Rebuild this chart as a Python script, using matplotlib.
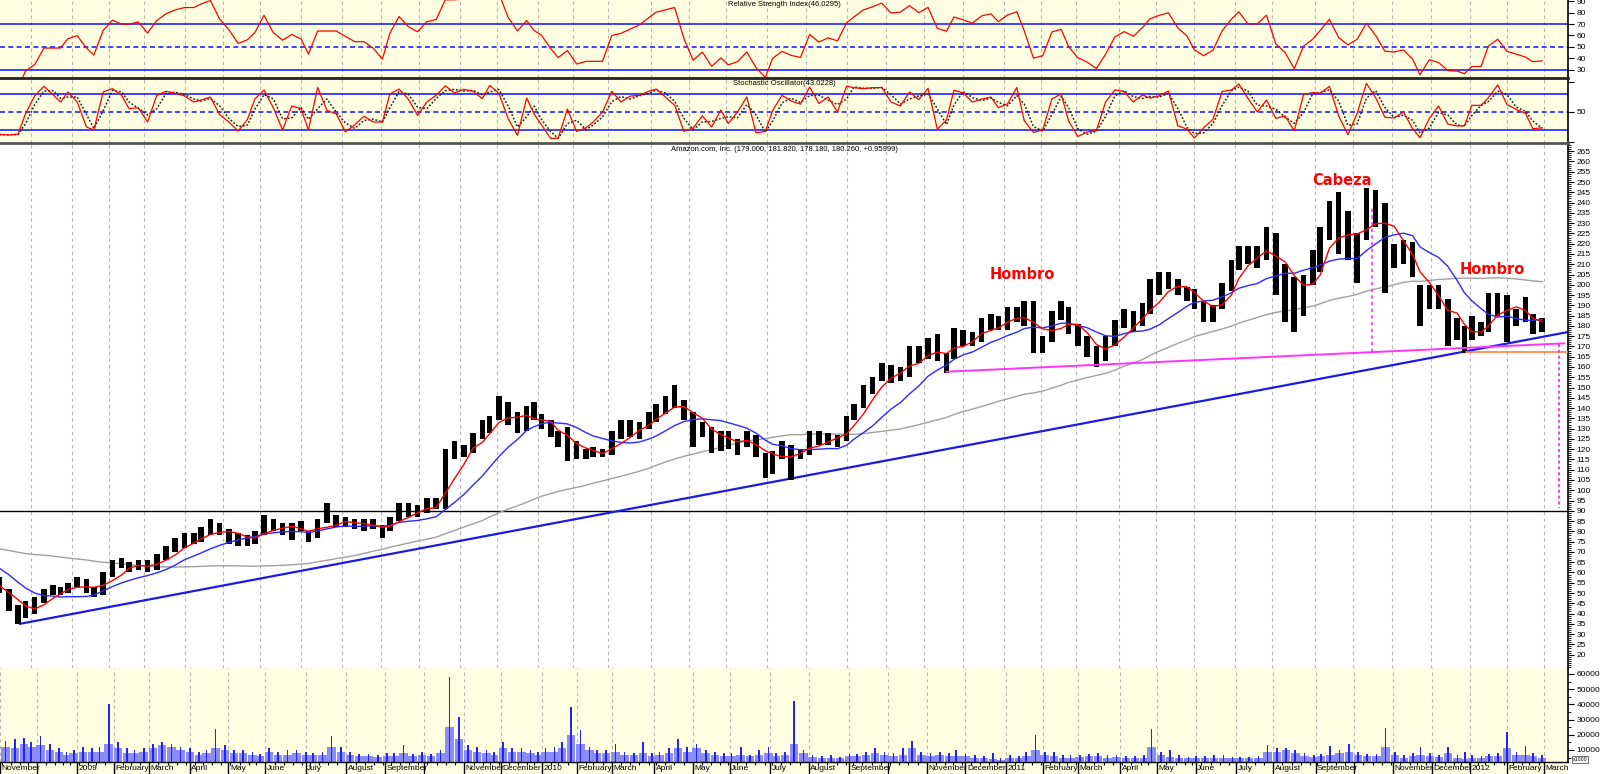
import numpy as np
import pandas as pd
import matplotlib
matplotlib.use("Agg")
import matplotlib.pyplot as plt
import matplotlib.transforms as mtrans
from matplotlib.patches import Rectangle
from matplotlib.ticker import FixedLocator

plt.rcParams["font.family"] = ["Liberation Sans", "DejaVu Sans"]

# ---------------- data (weekly, week ending Friday) ----------------
weeks = pd.date_range("2008-11-07", "2012-03-02", freq="W-FRI")

high = [58, 52, 44, 46, 48, 52, 54, 53,
        55, 58, 57, 53, 60, 66, 67, 65, 66, 66, 69, 73, 77, 79, 79, 82, 86,
        84, 81, 79, 78, 80, 88, 86, 84, 84, 85, 80, 86, 94, 88, 87, 86, 86, 86,
        83, 87, 94, 94, 93, 96, 96, 120, 124, 122, 128, 134, 136, 146, 143, 138, 141,
        143, 137, 134, 129, 131, 124, 120, 121, 120, 129, 134, 134, 133, 138, 142, 146, 151, 144,
        138, 133, 131, 129, 129, 125, 129, 127, 118, 119, 124, 122, 120, 129, 129, 128, 127,
        136, 142, 151, 155, 162, 161, 160, 170, 170, 174, 176, 167, 179, 178, 177, 184, 186, 185,
        189, 189, 192, 192, 175, 187, 192, 189, 181, 175, 170, 175, 183, 188, 187, 191, 203,
        206, 206, 203, 199, 198, 192, 190, 201, 212, 219, 219, 219, 228, 225, 210, 204, 205,
        217, 228, 241, 245, 236, 225, 247, 246, 240, 220, 222, 221, 200, 200, 200, 193, 184, 180,
        185, 182, 196, 196, 195, 188, 194, 186, 184]
low = [50, 41, 35, 38, 40, 45, 49, 49,
       50, 53, 50, 48, 49, 58, 62, 60, 61, 60, 61, 66, 70, 72, 74, 75, 78,
       78, 74, 73, 73, 74, 78, 80, 78, 76, 80, 75, 77, 84, 82, 82, 81, 80, 81,
       77, 80, 85, 87, 87, 89, 91, 91, 115, 116, 118, 125, 128, 134, 132, 128, 129,
       134, 130, 126, 121, 114, 115, 115, 116, 116, 117, 125, 126, 125, 130, 133, 137, 140, 134,
       121, 126, 118, 119, 120, 117, 121, 116, 106, 108, 115, 105, 115, 117, 122, 122, 121,
       124, 134, 140, 147, 153, 152, 153, 155, 162, 164, 163, 157, 164, 170, 170, 172, 178, 178,
       178, 182, 180, 167, 167, 172, 183, 176, 170, 165, 160, 163, 170, 179, 177, 180, 186,
       195, 198, 195, 192, 188, 182, 182, 188, 197, 207, 210, 208, 212, 195, 182, 177, 185,
       200, 206, 222, 215, 212, 201, 222, 228, 196, 208, 210, 204, 180, 188, 188, 170, 173, 167,
       173, 175, 177, 185, 172, 180, 182, 176, 177]
close = [51, 43, 38, 43, 45, 51, 51, 51,
         54, 55, 52, 50, 58, 64, 63, 63, 64, 62, 67, 71, 74, 76, 76, 79, 83,
         80, 78, 75, 76, 78, 86, 82, 80, 82, 81, 77, 85, 85, 85, 84, 83, 83, 82,
         80, 85, 92, 90, 89, 93, 94, 118, 118, 120, 126, 129, 135, 142, 135, 130, 139,
         135, 133, 127, 122, 125, 117, 118, 118, 118, 127, 128, 130, 132, 136, 140, 142, 144, 137,
         128, 131, 123, 126, 122, 123, 126, 118, 110, 117, 120, 118, 117, 127, 124, 126, 125,
         135, 140, 148, 153, 160, 157, 158, 167, 165, 172, 165, 164, 176, 175, 174, 180, 182, 180,
         185, 188, 183, 171, 172, 185, 187, 179, 172, 169, 164, 170, 180, 184, 182, 188, 196,
         200, 203, 198, 195, 189, 186, 188, 198, 208, 218, 213, 213, 222, 208, 202, 186, 203,
         210, 220, 238, 223, 216, 222, 246, 235, 217, 216, 218, 208, 183, 196, 192, 179, 178, 174,
         178, 178, 190, 195, 187, 185, 183, 180, 180.26]

vol_avg = [12000, 11000, 14000, 12000, 13000, 10000, 9000, 7000,
           8000, 9000, 9000, 9000, 14000, 11000, 8000, 8000, 9000, 11000, 13000, 12000, 10000,
           9000, 7000, 8000, 11000, 10000, 8000, 8000, 7000, 6000, 9000, 7000, 7000, 8000,
           7000, 7000, 7000, 12000, 9000, 7000, 6000, 6000, 5500, 6000, 6000, 8000, 6000,
           7000, 6000, 8000, 25000, 17000, 10000, 9000, 8000, 7000, 11000, 9000, 9000, 8000,
           7000, 9000, 9000, 11000, 20000, 14000, 10000, 8000, 8000, 9000, 7000, 7000, 8000,
           6000, 7000, 8000, 11000, 9000, 11000, 8000, 7000, 6000, 6000, 7000, 6000, 7000,
           8000, 6000, 7000, 14000, 8000, 5500, 5000, 5000, 4500, 6000, 6000, 7000, 8000,
           7000, 6000, 7000, 11000, 7000, 6000, 7000, 6000, 6000, 6000, 5000, 5000, 4000, 3500,
           5000, 5000, 6000, 10000, 7000, 6000, 5000, 5000, 5500, 6000, 6000, 5000,
           5500, 5000, 5000, 5000, 12000, 7000, 5500, 5000, 4500, 4500, 5000, 5000, 5000,
           4500, 4500, 4500, 5000, 9000, 9000, 10000, 8000, 6000, 5500, 6000, 7000, 8000, 9000,
           7000, 6000, 6000, 12000, 7000, 5000, 6000, 7000, 6000, 5500, 8000, 5000, 4000,
           5000, 5000, 6000, 6000, 11000, 7000, 7000, 6000, 5000]
vol_peak = [16000, 17000, 18000, 15000, 19000, 14000, 11000, 9000,
            10000, 12000, 11000, 12000, 40000, 15000, 11000, 10000, 11000, 14000, 15000, 14000, 12000,
            11000, 9000, 10000, 24000, 13000, 10000, 10000, 8500, 7500, 11000, 9000, 10000, 10000,
            9000, 8000, 9000, 19000, 12000, 8500, 7500, 7500, 7000, 8000, 8000, 13000, 7500,
            9000, 7500, 10000, 58000, 32000, 13000, 12000, 10000, 9000, 15500, 11000, 11000, 10000,
            9000, 11000, 12000, 15500, 38000, 23000, 12000, 10000, 10000, 14000, 9000, 8000, 15500,
            8000, 9000, 11000, 17000, 12000, 14000, 10000, 9000, 8000, 8000, 12000, 7000, 10000,
            12000, 8000, 9000, 42000, 10000, 7000, 6000, 6500, 5500, 7500, 7500, 9000, 11000,
            9000, 8000, 11000, 16000, 9000, 8000, 9000, 8000, 10000, 7500, 6500, 6000, 8000, 5000,
            6500, 6000, 8500, 20000, 9000, 8500, 6500, 6500, 7000, 7500, 8000, 6500,
            6500, 6000, 6000, 6500, 24000, 9000, 10000, 6500, 5500, 6000, 6000, 7000, 6500,
            5500, 5500, 5500, 6000, 13000, 11000, 11500, 10000, 8000, 7000, 7500, 12500, 10000, 14000,
            9000, 7500, 7500, 24700, 9000, 6500, 8000, 12000, 8000, 7000, 12000, 6500, 8500,
            6500, 6000, 7500, 8000, 21500, 8500, 12500, 8000, 6500]

# weekly closes Feb-Oct 2008 (off-chart history used by the moving averages)
pre_close = [74, 73, 73, 69, 64, 62, 70, 71, 72, 73, 71, 73, 79, 79, 78, 80, 78, 81, 76, 73,
             76, 73, 72, 74, 74, 77, 77, 79, 81, 80, 80, 74, 75, 70, 70, 64, 53, 56, 52, 55]

month_labels = ["November", "", "2009", "February", "March", "April", "May", "June", "July",
                "August", "September", "", "November", "December", "2010", "February", "March",
                "April", "May", "June", "July", "August", "September", "", "November", "December",
                "2011", "February", "March", "April", "May", "June", "July", "August", "September",
                "", "November", "December", "2012", "February", "March"]

nyse_holidays = ["2008-11-27", "2008-12-25", "2009-01-01", "2009-01-19", "2009-02-16", "2009-04-10",
                 "2009-05-25", "2009-07-03", "2009-09-07", "2009-11-26", "2009-12-25", "2010-01-01",
                 "2010-01-18", "2010-02-15", "2010-04-02", "2010-05-31", "2010-07-05", "2010-09-06",
                 "2010-11-25", "2010-12-24", "2011-01-17", "2011-02-21", "2011-04-22", "2011-05-30",
                 "2011-07-04", "2011-09-05", "2011-11-24", "2011-12-26", "2012-01-02", "2012-01-16",
                 "2012-02-20"]

trend_dates = ["2008-11-20", "2012-03-20"]
trend_vals = [35.0, 177.0]
neck_dates = ["2010-11-17", "2012-03-16"]
neck_vals = [157.7, 171.5]
support_dates = ["2011-12-29", "2012-03-20"]
support_vals = [167.2, 167.2]
head_date, head_vals = "2011-10-17", [167.1, 238.5]
target_date, target_vals = "2012-03-13", [171.3, 91.5]
ref_level = 90
notes = [("Cabeza", "2011-09-23", 250.6), ("Hombro", "2011-01-18", 204.8),
         ("Hombro", "2012-01-20", 207.2)]

# ---------------- helpers ----------------
T0 = np.datetime64("2008-12-01")
HOL = np.array(nyse_holidays, dtype="datetime64[D]")


def tday(d):
    single = isinstance(d, str)
    arr = np.array([d] if single else pd.to_datetime(d).values, dtype="datetime64[D]")
    r = np.busday_count(T0, arr, holidays=HOL).astype(float)
    return r[0] if single else r


wk_t = tday(weeks) - 2.0
month_starts = pd.date_range("2008-11-01", "2012-03-01", freq="MS")
month_t = tday(month_starts)

W, H = 1600, 774
XL = (-16.76, 831.0)
YEL = "#FFFFE1"
FS = 6

# indicators from weekly closes
all_close = pd.Series(pre_close + close, dtype=float)
n = len(close)
ma_fast = all_close.rolling(4).mean().values[-n:]
ma_mid = all_close.rolling(10).mean().values[-n:]
ma_slow = all_close.rolling(40).mean().values[-n:]
delta = all_close.diff()
up = delta.clip(lower=0).ewm(alpha=1 / 6, adjust=False).mean()
dn = (-delta.clip(upper=0)).ewm(alpha=1 / 6, adjust=False).mean()
rsi = (100 - 100 / (1 + up / dn)).values[-n:]
hs, ls_, cs = pd.Series(high, dtype=float), pd.Series(low, dtype=float), pd.Series(close, dtype=float)
hh = hs.rolling(3, min_periods=1).max()
ll = ls_.rolling(3, min_periods=1).min()
stk = 100 * (cs - ll) / (hh - ll)
std = stk.rolling(2, min_periods=1).mean()

# ---------------- figure ----------------
fig = plt.figure(figsize=(W / 100, H / 100), dpi=100)
fig.patch.set_facecolor("white")


def rect(top, bottom):
    return [0, 1 - bottom / H, 1568 / W, (bottom - top) / H]


ax_rsi = fig.add_axes(rect(0, 78))
ax_sto = fig.add_axes(rect(78, 143))
ax_pr = fig.add_axes(rect(143, 668))
ax_vol = fig.add_axes(rect(668, 762))

for ax, bg in [(ax_rsi, YEL), (ax_sto, YEL), (ax_pr, "white"), (ax_vol, YEL)]:
    ax.set_facecolor(bg)
    ax.set_xlim(*XL)
    for s in ["left", "top", "bottom"]:
        ax.spines[s].set_visible(False)
    ax.spines["right"].set_color("black")
    ax.spines["right"].set_linewidth(1.2)
    ax.yaxis.tick_right()
    ax.tick_params(axis="y", which="major", direction="out", length=4, width=0.8,
                   labelsize=FS, pad=2, colors="black")
    ax.tick_params(axis="y", which="minor", direction="out", length=2, width=0.6)
    ax.tick_params(axis="x", which="both", bottom=False, labelbottom=False)
    for m in month_t:
        ax.axvline(m, color="#B4B4B4", lw=0.8, ls=(0, (3, 3)), zorder=0.5)

ax_sto.spines["top"].set_visible(True)
ax_sto.spines["top"].set_linewidth(2)
ax_sto.spines["top"].set_color("#222222")
ax_pr.spines["top"].set_visible(True)
ax_pr.spines["top"].set_linewidth(2)
ax_pr.spines["top"].set_color("#555555")

# RSI panel
ax_rsi.set_ylim(23.0, 90.9)
ax_rsi.yaxis.set_major_locator(FixedLocator([30, 40, 50, 60, 70, 80, 90]))
for lv, st in [(70, "-"), (30, "-"), (50, (0, (3, 2)))]:
    ax_rsi.axhline(lv, color="#2020FF", lw=1.2, ls=st, zorder=1)
ax_rsi.plot(wk_t, rsi, color="#FF0000", lw=0.9, zorder=3)
ax_rsi.text(0.5, 0.985, "Relative Strength Index(46.0295)", transform=ax_rsi.transAxes,
            ha="center", va="top", fontsize=5.5)

# Stochastic panel
ax_sto.set_ylim(-1.7, 106.7)
ax_sto.yaxis.set_major_locator(FixedLocator([0, 50, 100]))
ax_sto.set_yticklabels(["", "50", ""])
for lv, st in [(80, "-"), (20, "-"), (50, (0, (3, 2)))]:
    ax_sto.axhline(lv, color="#2020FF", lw=1.2, ls=st, zorder=1)
ax_sto.plot(wk_t, std, color="#222222", lw=1.1, ls=(0, (1.2, 1.2)), zorder=3)
ax_sto.plot(wk_t, stk, color="#FF0000", lw=0.9, zorder=4)
ax_sto.text(0.5, 0.97, "Stochastic Oscillator(43.0228)", transform=ax_sto.transAxes,
            ha="center", va="top", fontsize=5.5)

# Price panel
ax_pr.set_ylim(13.5, 269.0)
ax_pr.yaxis.set_major_locator(FixedLocator(list(range(20, 270, 5))))
ax_pr.yaxis.set_minor_locator(FixedLocator(list(range(14, 269, 1))))
ax_pr.axhline(ref_level, color="black", lw=1.0, zorder=1)
ax_pr.plot(tday(trend_dates), trend_vals, color="#1A1AE6", lw=1.6, zorder=2)
ax_pr.plot(wk_t, ma_slow, color="#A0A0A0", lw=1.0, zorder=2)
ax_pr.bar(wk_t, np.array(high) - np.array(low), bottom=low, width=3.0, color="black",
          zorder=3)
ax_pr.plot(wk_t, ma_mid, color="#2A2AFF", lw=1.0, zorder=4)
ax_pr.plot(wk_t, ma_fast, color="#FF0000", lw=1.0, zorder=5)
ax_pr.plot(tday(neck_dates), neck_vals, color="#FF33FF", lw=1.4, zorder=4)
ax_pr.plot(tday(support_dates), support_vals, color="#FF7F3F", lw=1.2, zorder=4)
ax_pr.plot([tday(head_date)] * 2, head_vals, color="#FF33FF", lw=1.2, ls=(0, (2, 2)), zorder=4)
ax_pr.plot([tday(target_date)] * 2, target_vals, color="#FF33FF", lw=1.4, ls=(0, (1.5, 1.5)),
           zorder=4)
for txt, d, yv in notes:
    ax_pr.text(tday(d), yv, txt, color="#FF0000", fontsize=10.5, fontweight="bold",
               family="DejaVu Sans", ha="center", va="center", zorder=6)
ax_pr.text(0.5, 0.995, "Amazon.com, Inc. (179.000, 181.820, 178.180, 180.260, +0.95999)",
           transform=ax_pr.transAxes, ha="center", va="top", fontsize=5.5)

# Volume panel
ax_vol.set_ylim(2100, 63900)
ax_vol.yaxis.set_major_locator(FixedLocator([10000, 20000, 30000, 40000, 50000, 60000]))
ax_vol.yaxis.set_minor_locator(FixedLocator(list(range(5000, 64000, 5000))))
ax_vol.bar(wk_t, vol_avg, width=4.6, color="#8C8CF8", zorder=2)
ax_vol.bar(wk_t, vol_peak, width=0.9, color="#2424F0", zorder=3)
ax_vol.spines["bottom"].set_visible(True)
ax_vol.spines["bottom"].set_color("black")
ax_vol.spines["bottom"].set_linewidth(1.0)
ax_vol.set_xticks(month_t)
ax_vol.set_xticks(wk_t - 2.0, minor=True)
ax_vol.tick_params(axis="x", which="major", bottom=True, direction="out", length=12,
                   width=1.0, labelbottom=False)
ax_vol.tick_params(axis="x", which="minor", bottom=True, direction="out", length=2.5,
                   width=0.8)
trans = mtrans.blended_transform_factory(ax_vol.transData, ax_vol.transAxes)
for m, lab in zip(month_t, month_labels):
    if lab:
        ax_vol.text(m + 0.8, -0.035, lab, transform=trans, ha="left", va="top",
                    fontsize=FS, clip_on=False)
ax_vol.text(1.003, 0.0, "x1000", transform=ax_vol.transAxes, fontsize=3.8, ha="left",
            va="bottom", bbox=dict(boxstyle="square,pad=0.12", fc="white", ec="#333333", lw=0.5))

# bottom label strip
fig.patches.append(Rectangle((0, 0), 1568 / W, 12 / H, transform=fig.transFigure,
                             facecolor=YEL, edgecolor="none", zorder=-1))

fig.savefig("out.png", dpi=100, facecolor="white")
